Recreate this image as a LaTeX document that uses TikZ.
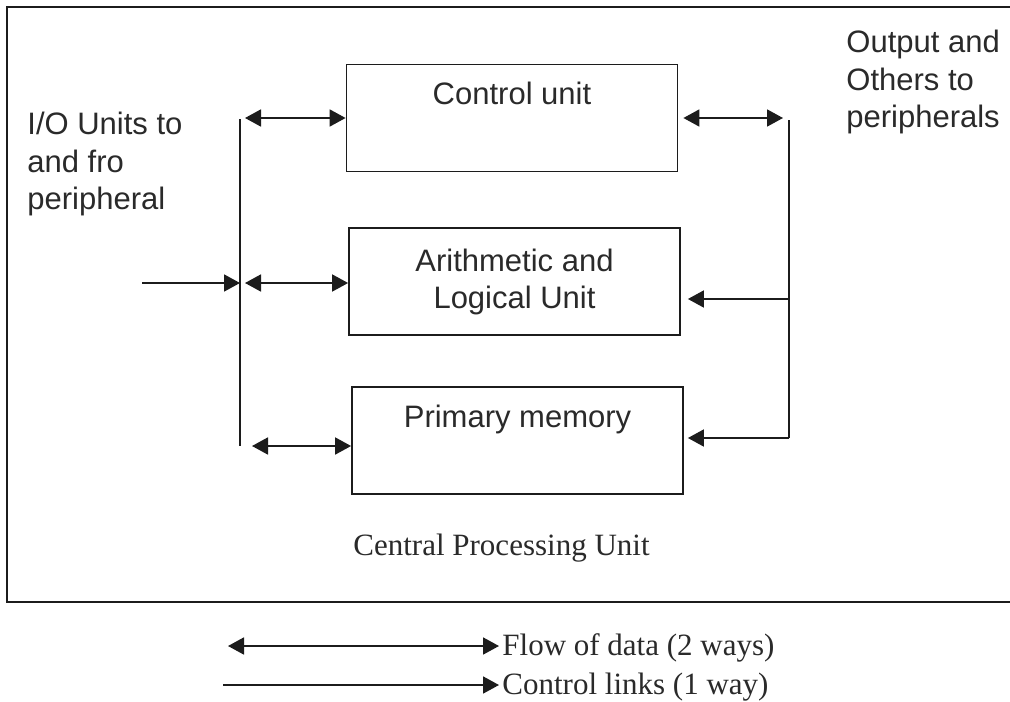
\documentclass[tikz,border=0pt]{standalone}
\usepackage{fontspec}
\setmainfont{Liberation Serif}
\setsansfont{Liberation Sans}
\usepackage{tikz}
\usetikzlibrary{arrows.meta,positioning}
\definecolor{cpuink}{HTML}{1C1C1C}
\definecolor{cputext}{HTML}{2A2A2A}
\newcommand{\cpusans}{\sffamily\fontsize{15.5}{18.6}\selectfont}
\newcommand{\cpuserif}{\rmfamily\fontsize{15.5}{18.6}\selectfont}
\tikzset{
  boxbase/.style={
    rectangle,
    draw=cpuink,
    line width=0.9pt,
    minimum width=165.5pt,
    inner sep=0pt,
    text=cputext,
    font=\cpusans
  },
  unitbox/.style={boxbase, text height=20pt, text depth=33.5pt},
  alubox/.style={boxbase, minimum height=53.5pt, align=center},
  sidetext/.style={inner sep=0pt, align=left, text=cputext, font=\cpusans},
  legtext/.style={inner sep=1.5pt, text=cputext, font=\cpuserif},
  busline/.style={line width=0.9pt, draw=cpuink},
  cpuframe/.style={line width=1.2pt, draw=cpuink},
  dataarrow/.style={{Triangle[length=8pt,width=8.5pt]}-{Triangle[length=8pt,width=8.5pt]}, line width=0.9pt, draw=cpuink},
  ctrlarrow/.style={-{Triangle[length=8pt,width=8.5pt]}, line width=0.9pt, draw=cpuink}
}
\begin{document}
\begin{tikzpicture}[x=0.5pt, y=-0.5pt]
\useasboundingbox[fill=white] (0,0) rectangle (1010,701);
% outer frame of the processor
\draw[cpuframe] (1014,7) -- (7,7) -- (7,602) -- (1014,602);
% the three units
\node[unitbox] (cu) at (512,118) {Control unit};
\node[alubox, below=27.5pt of cu, xshift=1.25pt] (alu) {Arithmetic and\\Logical Unit};
\node[unitbox, below=25pt of alu, xshift=1.5pt] (pm) {Primary memory};
\node[legtext, anchor=base] (cpu) at (501.5,555) {Central Processing Unit};
% side labels
\node[sidetext, anchor=north west] (iotext) at (27,112) {I/O Units to\\and fro\\peripheral};
\node[sidetext, anchor=north west] (outtext) at (846,30) {Output and\\Others to\\peripherals};
% buses
\coordinate (busLtop) at (240,119);
\coordinate (busLbot) at (240,446);
\coordinate (busRtop) at (789,120);
\coordinate (busRbot) at (789,438);
\coordinate (inL) at (142,283);
\coordinate (aluR) at (789,299);
\draw[busline] (busLtop) -- (busLbot);
\draw[busline] (busRtop) -- (busRbot);
% left side
\draw[ctrlarrow] (inL) -- (inL -| busLtop);
\draw[dataarrow, shorten <=2.5pt] (cu.west -| busLtop) -- (cu.west);
\draw[dataarrow, shorten <=2.5pt] (inL -| busLtop) -- (inL -| alu.west);
\draw[dataarrow, shorten <=6pt] (busLbot) -- (busLbot -| pm.west);
% right side
\draw[dataarrow, shorten <=2.5pt, shorten >=3pt] (cu.east) -- (cu.east -| busRtop);
\draw[ctrlarrow, shorten >=3.5pt] (aluR) -- (aluR -| alu.east);
\draw[ctrlarrow, shorten >=2pt] (busRbot) -- (busRbot -| pm.east);
% legend
\coordinate (legA) at (228,646);
\coordinate (legB) at (223,685);
\node[legtext, anchor=west] (legdata) at (499,648) {Flow of data (2 ways)};
\node[legtext, anchor=west] (legctrl) at (499,687) {Control links (1 way)};
\draw[dataarrow] (legA) -- (legA -| legdata.west);
\draw[ctrlarrow] (legB) -- (legB -| legctrl.west);
\end{tikzpicture}
\end{document}
